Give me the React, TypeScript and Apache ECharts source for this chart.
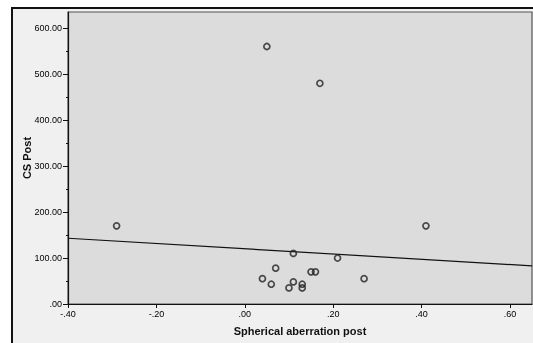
import React, { useEffect, useRef } from "react";
import * as echarts from "echarts";

const xValues = [-0.29, 0.05, 0.17, 0.41, 0.11, 0.21, 0.07, 0.15, 0.16, 0.04, 0.27, 0.11, 0.06, 0.13, 0.10, 0.13];
const yValues = [170, 560, 480, 170, 110, 100, 78, 70, 70, 55, 55, 48, 43, 43, 35, 35];
const fitX = [-0.4, 0.65];
const fitY = [143, 83];
const xTicks = [-0.4, -0.2, 0, 0.2, 0.4, 0.6];
const yTicks = [0, 100, 200, 300, 400, 500, 600];
const yMinorTicks = [50, 150, 250, 350, 450, 550];

const fmt = (v: number, d: number) => {
  const s = v.toFixed(d);
  return s.replace(/^(-?)0\./, "$1.");
};

export default function App() {
  const ref = useRef<HTMLDivElement>(null);
  useEffect(() => {
    if (!ref.current) return;
    const chart = echarts.init(ref.current, null, { renderer: "svg" });
    const font = "'Liberation Sans', Arial, sans-serif";
    chart.setOption({
      animation: false,
      graphic: [
        {
          type: "rect",
          z: -10,
          shape: { x: 12, y: 8, width: 560, height: 400 },
          style: { fill: "#f0f0f0", stroke: "#111", lineWidth: 2 },
        },
      ],
      grid: {
        left: 68,
        top: 12,
        right: 1,
        bottom: 39,
        show: true,
        backgroundColor: "#dcdcdc",
        borderColor: "#555",
        borderWidth: 1.2,
      },
      xAxis: {
        type: "value",
        min: -0.4,
        max: 0.65,
        name: "Spherical aberration post",
        nameLocation: "middle",
        nameGap: 21,
        nameMoveOverlap: false,
        nameTextStyle: { fontFamily: font, fontWeight: "bold", fontSize: 11, color: "#111" },
        axisLine: { show: true, onZero: false, lineStyle: { color: "#111", width: 1.2 } },
        axisTick: { show: true, customValues: xTicks, length: 4, lineStyle: { color: "#111" } },
        axisLabel: {
          customValues: xTicks,
          formatter: (v: number) => fmt(v, 2),
          fontFamily: font,
          fontSize: 9,
          color: "#000",
          margin: 5,
        },
        splitLine: { show: false },
      },
      yAxis: [
        {
          type: "value",
          min: 0,
          max: 635,
          name: "CS Post",
          nameLocation: "middle",
          nameGap: 36,
          nameMoveOverlap: false,
          nameTextStyle: { fontFamily: font, fontWeight: "bold", fontSize: 11, color: "#111" },
          axisLine: { show: true, onZero: false, lineStyle: { color: "#111", width: 1.2 } },
          axisTick: { show: true, customValues: yTicks, length: 5, lineStyle: { color: "#111" } },
          axisLabel: {
            customValues: yTicks,
            formatter: (v: number) => fmt(v, 2),
            fontFamily: font,
            fontSize: 9,
            color: "#000",
            margin: 6,
          },
          splitLine: { show: false },
        },
        {
          type: "value",
          min: 0,
          max: 635,
          position: "left",
          axisLine: { show: false, onZero: false },
          axisTick: { show: true, customValues: yMinorTicks, length: 2, lineStyle: { color: "#111" } },
          axisLabel: { show: false },
          splitLine: { show: false },
        },
      ],
      series: [
        {
          type: "line",
          data: fitX.map((x, i) => [x, fitY[i]]),
          symbol: "none",
          lineStyle: { color: "#111", width: 1.2 },
          z: 3,
        },
        {
          type: "scatter",
          data: xValues.map((x, i) => [x, yValues[i]]),
          symbol: "circle",
          symbolSize: 6,
          itemStyle: { color: "rgba(0,0,0,0)", borderColor: "#222", borderWidth: 1.7 },
          z: 4,
        },
      ],
    });
    return () => chart.dispose();
  }, []);
  return (
    <div
      ref={ref}
      style={{ position: "fixed", left: 0, top: 0, width: 533, height: 343 }}
    />
  );
}
